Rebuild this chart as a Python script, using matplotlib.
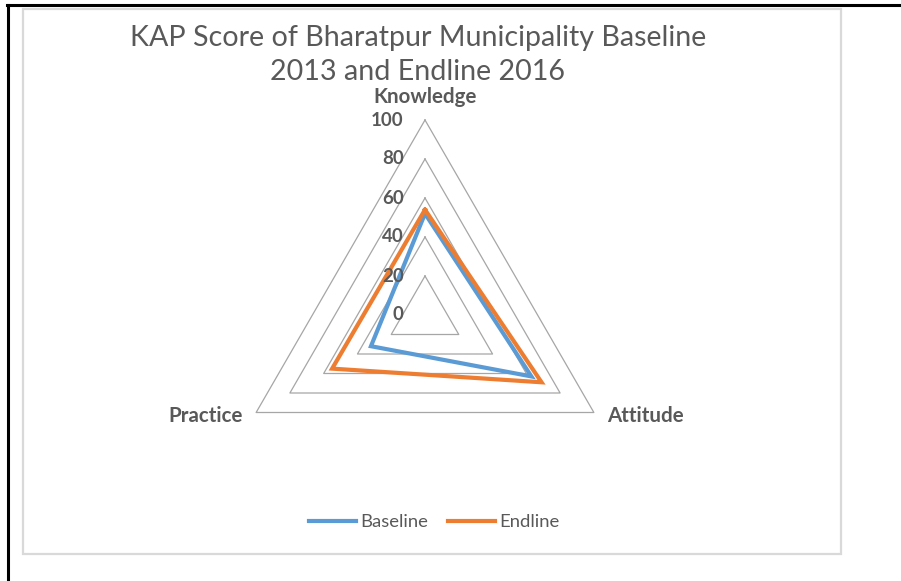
import numpy as np
import matplotlib.pyplot as plt
from matplotlib.lines import Line2D
from matplotlib.patches import Rectangle

categories = ['Knowledge', 'Attitude', 'Practice']
baseline = [52, 63, 32]
endline = [54, 69, 55]
ticks = [0, 20, 40, 60, 80, 100]

plt.rcParams['font.family'] = ['Lato', 'DejaVu Sans']
txt = '#595959'

W, H = 901, 581
fig = plt.figure(figsize=(W / 100, H / 100), dpi=100)

# outer black border (top and left only) and grey chart frame
fig.add_artist(Line2D([7 / W, 1], [1 - 5 / H, 1 - 5 / H], color='black', lw=2.2))
fig.add_artist(Line2D([8 / W, 8 / W], [0, 1 - 5 / H], color='black', lw=2.2))
fig.add_artist(Rectangle((23 / W, 1 - 554 / H), (841 - 23) / W, (554 - 9) / H,
                         fill=False, ec='#d9d9d9', lw=1.6))

# axes: center at (425, 315) px, 100 units = 195 px
s = 1.95
L, T = 150, 120
cx, cy = 425, 315
ax = fig.add_axes([(cx - s * L) / W, (H - cy - s * T) / H, 2 * s * L / W, 2 * s * T / H])
ax.set_xlim(-L, L)
ax.set_ylim(-T, T)
ax.axis('off')

angles = np.deg2rad([90, -30, 210])


def xy(vals):
    v = np.array(list(vals) + [vals[0]], dtype=float)
    a = np.append(angles, angles[0])
    return v * np.cos(a), v * np.sin(a)


# triangular grid
for t in ticks[1:]:
    gx, gy = xy([t, t, t])
    ax.plot(gx, gy, color='#a6a6a6', lw=0.9, zorder=1)

# radial tick labels
for t in ticks:
    ax.text(-11, t, str(t), ha='right', va='center', fontsize=13.5,
            fontweight='bold', color=txt, zorder=3)

bx, by = xy(baseline)
ex, ey = xy(endline)
ax.plot(bx, by, color='#5B9BD5', lw=3, solid_joinstyle='miter', zorder=2, label='Baseline')
ax.plot(ex, ey, color='#ED7D31', lw=3, solid_joinstyle='miter', zorder=2, label='Endline')

# category labels
ax.text(0, 100 + 23 / s, categories[0], ha='center', va='center', fontsize=14.8,
        fontweight='bold', color=txt)
ax.text(100 * np.cos(angles[1]) + 13 / s, 100 * np.sin(angles[1]) - 3.5 / s, categories[1],
        ha='left', va='center', fontsize=14.8, fontweight='bold', color=txt)
ax.text(100 * np.cos(angles[2]) - 13 / s, 100 * np.sin(angles[2]) - 3.5 / s, categories[2],
        ha='right', va='center', fontsize=14.8, fontweight='bold', color=txt)

fig.text(418 / W, 1 - 55 / H, 'KAP Score of Bharatpur Municipality Baseline\n2013 and Endline 2016',
         ha='center', va='center', fontsize=20.6, color=txt, linespacing=1.4)

fig.legend(loc='center', bbox_to_anchor=(434 / W, 1 - 522 / H), ncol=2, frameon=False,
           fontsize=13.3, labelcolor=txt, handlelength=2.55, handletextpad=0.2,
           columnspacing=1.1)

fig.savefig('out.png', dpi=100)
